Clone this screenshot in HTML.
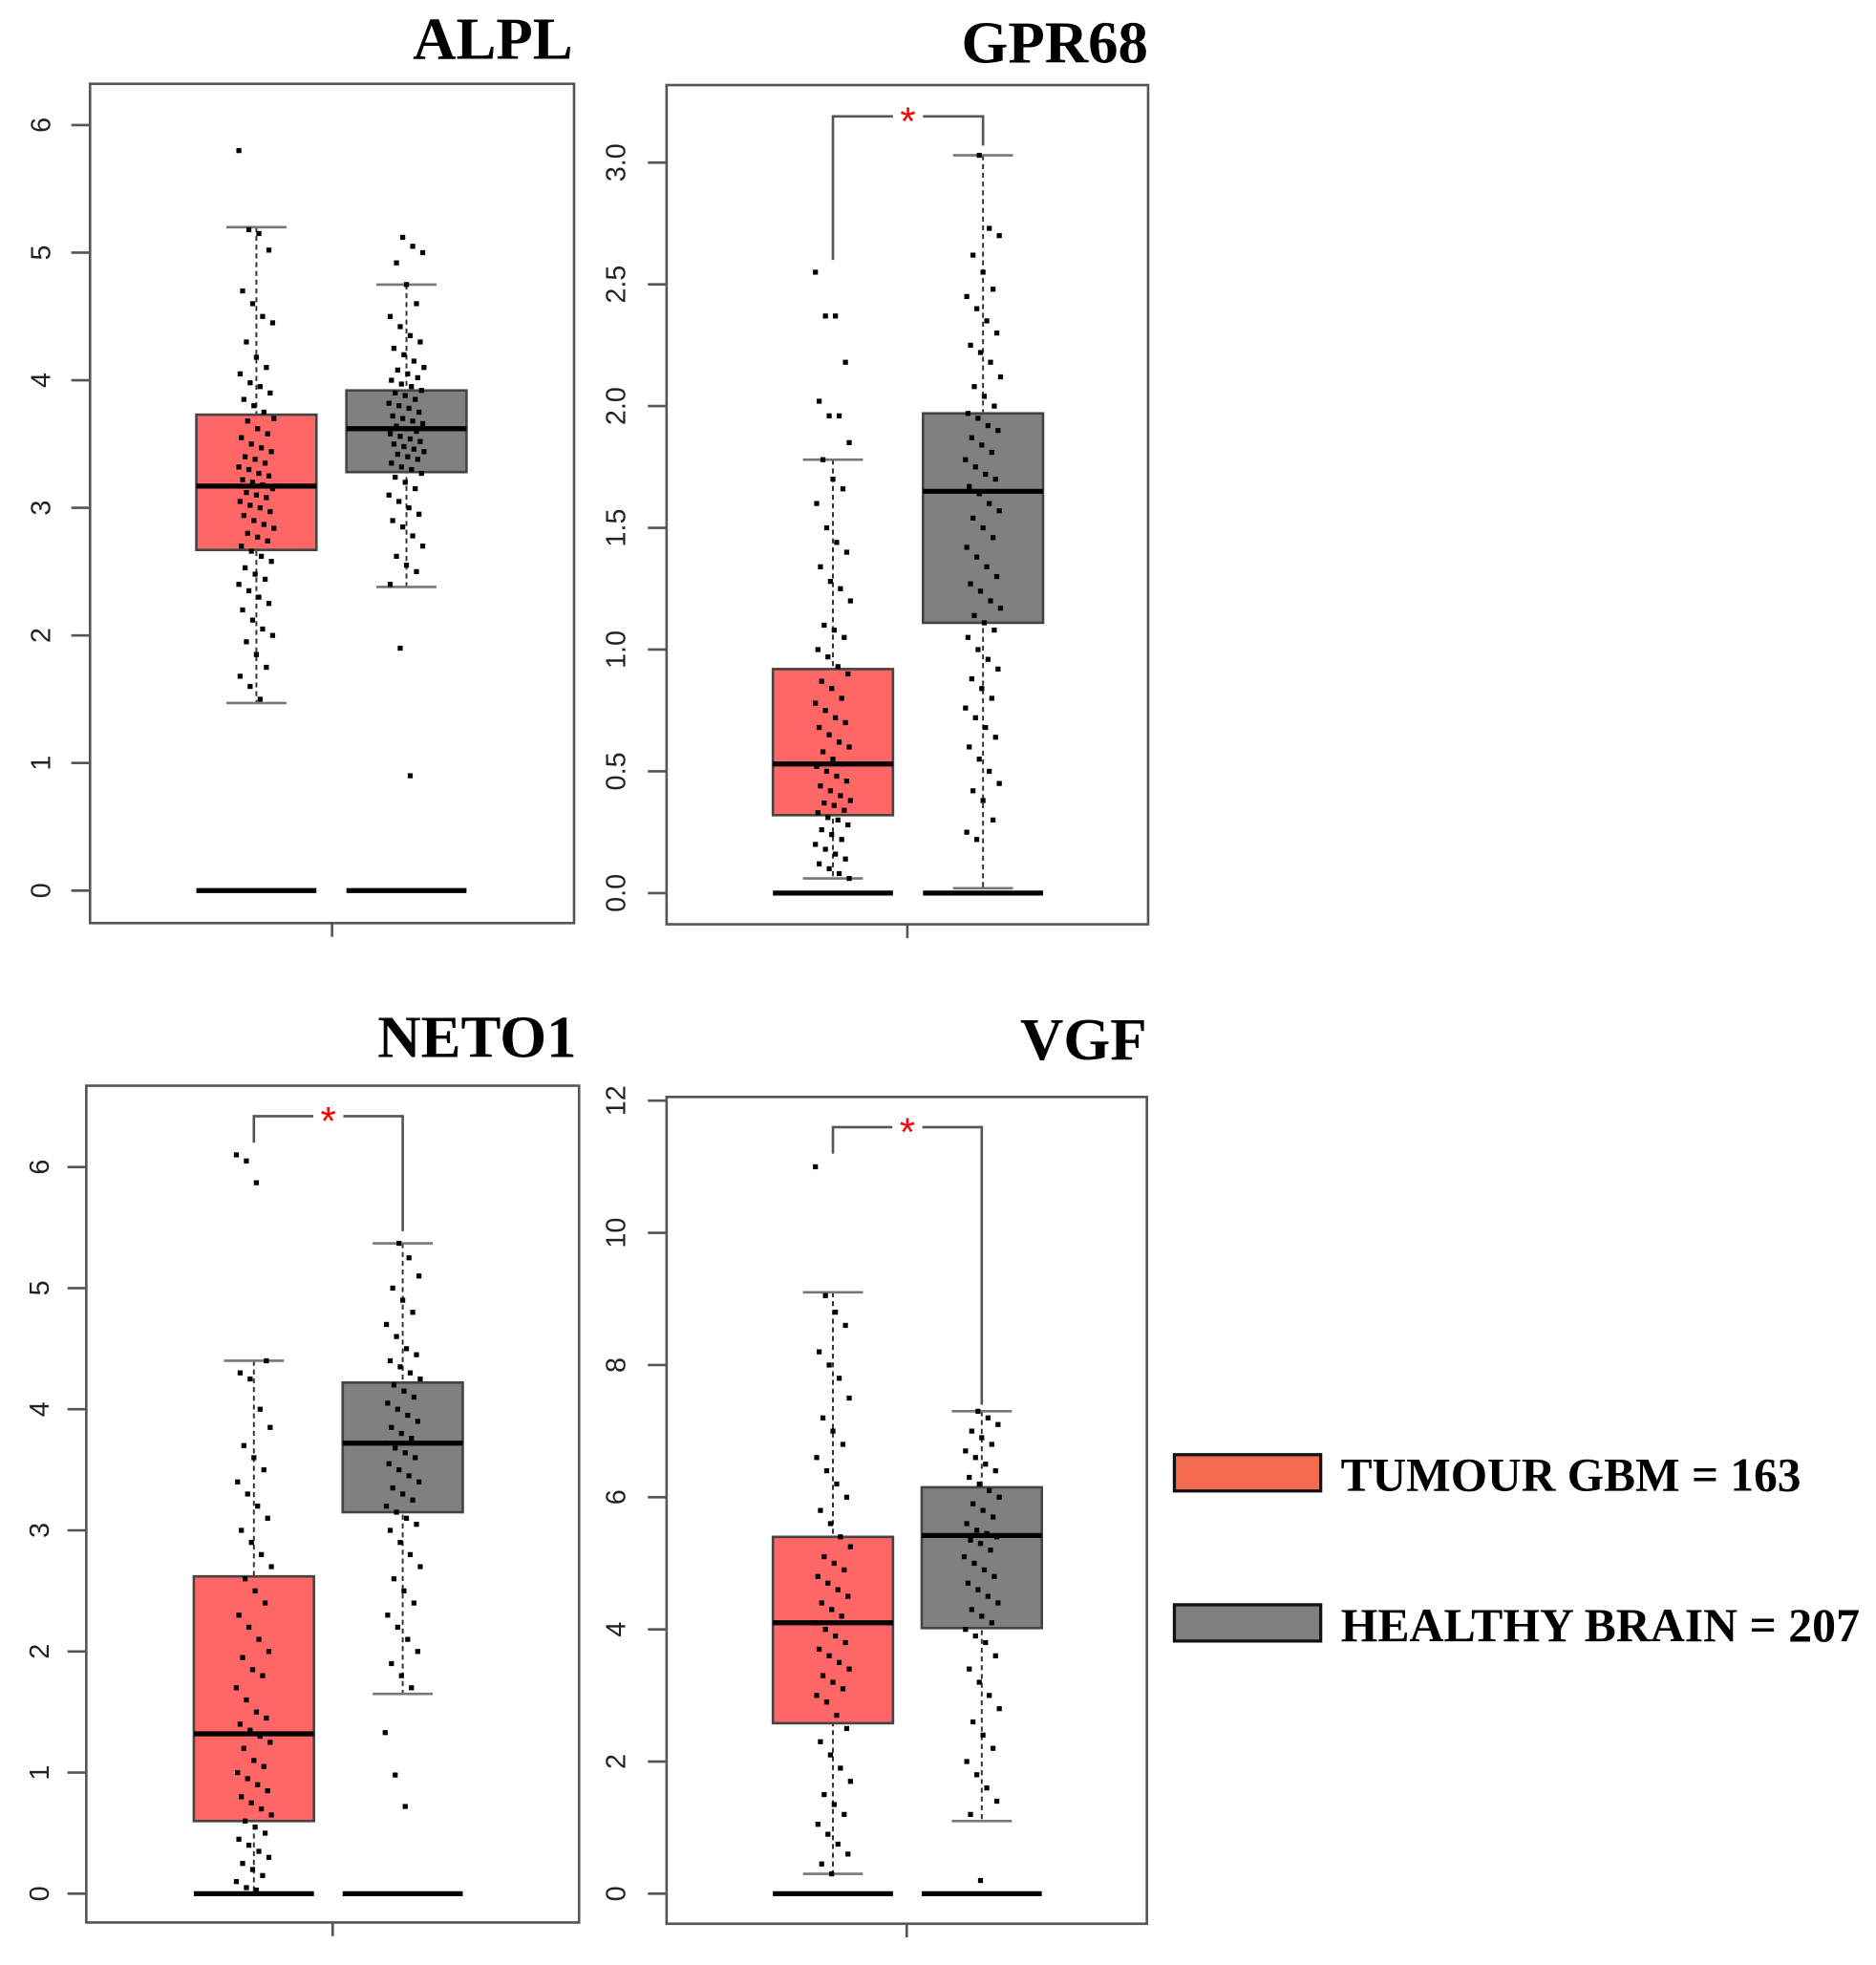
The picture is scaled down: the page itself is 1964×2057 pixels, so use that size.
<!DOCTYPE html>
<html><head><meta charset="utf-8"><title>Expression boxplots</title>
<style>
html,body{margin:0;padding:0;background:#fff;}
svg{display:block;}
</style></head>
<body>
<svg id="chart" width="1964" height="2057" viewBox="0 0 1500 1571" preserveAspectRatio="none" xmlns="http://www.w3.org/2000/svg"></svg>
<script>
// ===== data =====
const genes = ["ALPL","GPR68","NETO1","VGF"];
const groups = ["TUMOUR GBM","HEALTHY BRAIN"];
const groupCounts = [163,207];
const yTicksALPL = [0,1,2,3,4,5,6];
const yTicksGPR68 = [0,0.5,1,1.5,2,2.5,3];
const yTickLabelsGPR68 = ["0.0","0.5","1.0","1.5","2.0","2.5","3.0"];
const yTicksNETO1 = [0,1,2,3,4,5,6];
const yTicksVGF = [0,2,4,6,8,10,12];
// box stats: [whiskerLow, q1, median, q3, whiskerHigh]
const statsALPLTumour = [1.47,2.67,3.17,3.73,5.2];
const statsALPLHealthy = [2.38,3.28,3.62,3.92,4.75];
const statsGPR68Tumour = [0.06,0.32,0.53,0.92,1.78];
const statsGPR68Healthy = [0.02,1.11,1.65,1.97,3.03];
const statsNETO1Tumour = [0.0,0.6,1.32,2.62,4.4];
const statsNETO1Healthy = [1.65,3.15,3.72,4.22,5.37];
const statsVGFTumour = [0.3,2.58,4.1,5.4,9.1];
const statsVGFHealthy = [1.1,4.02,5.42,6.15,7.3];
// significance bracket: [height, tumourLegEnd, healthyLegEnd]
const sigGPR68 = [3.19,2.6,3.07];
const sigNETO1 = [6.42,6.2,5.47];
const sigVGF = [11.6,11.2,7.4];
// jittered sample values
const ptsALPLTumour = [5.8,5.18,5.15,5.02,4.7,4.6,4.5,4.45,4.3,4.18,4.1,4.05,3.98,3.95,3.9,3.85,3.8,3.75,3.7,3.68,3.62,3.58,3.55,3.5,3.47,3.44,3.4,3.38,3.35,3.32,3.3,3.27,3.25,3.22,3.2,3.18,3.15,3.12,3.1,3.08,3.05,3.02,3.0,2.97,2.94,2.9,2.87,2.84,2.8,2.77,2.74,2.7,2.66,2.62,2.58,2.53,2.48,2.44,2.4,2.35,2.3,2.25,2.2,2.12,2.05,2.0,1.95,1.85,1.75,1.68,1.6,1.5];
const ptsALPLHealthy = [5.12,5.05,5.0,4.92,4.75,4.6,4.5,4.42,4.35,4.3,4.25,4.2,4.15,4.1,4.08,4.05,4.02,4.0,3.97,3.95,3.92,3.9,3.88,3.85,3.82,3.8,3.78,3.75,3.72,3.7,3.68,3.66,3.64,3.62,3.6,3.58,3.56,3.54,3.52,3.5,3.48,3.46,3.44,3.42,3.4,3.38,3.35,3.32,3.3,3.27,3.24,3.2,3.15,3.1,3.05,3.0,2.95,2.9,2.85,2.78,2.7,2.62,2.55,2.5,2.4,1.9,0.9];
const ptsGPR68Tumour = [2.55,2.37,2.37,2.18,2.02,1.96,1.96,1.85,1.78,1.7,1.66,1.6,1.5,1.44,1.4,1.34,1.28,1.25,1.2,1.1,1.08,1.05,1.0,0.97,0.93,0.9,0.87,0.84,0.8,0.78,0.75,0.72,0.7,0.68,0.65,0.62,0.6,0.58,0.55,0.53,0.52,0.5,0.48,0.46,0.44,0.42,0.4,0.38,0.37,0.36,0.34,0.33,0.31,0.3,0.28,0.26,0.24,0.22,0.2,0.18,0.16,0.14,0.12,0.1,0.08,0.06];
const ptsGPR68Healthy = [3.03,2.73,2.7,2.62,2.55,2.48,2.45,2.4,2.35,2.3,2.25,2.22,2.18,2.12,2.08,2.04,2.0,1.97,1.95,1.92,1.9,1.87,1.84,1.81,1.78,1.75,1.72,1.7,1.67,1.64,1.6,1.57,1.54,1.5,1.46,1.42,1.38,1.34,1.3,1.27,1.24,1.2,1.17,1.14,1.11,1.08,1.05,1.0,0.96,0.92,0.88,0.84,0.8,0.76,0.72,0.68,0.64,0.6,0.55,0.5,0.45,0.42,0.38,0.3,0.25,0.22];
const ptsNETO1Tumour = [6.1,6.05,5.87,4.4,4.3,4.25,4.0,3.85,3.7,3.6,3.5,3.4,3.3,3.2,3.1,3.0,2.9,2.8,2.7,2.6,2.5,2.4,2.3,2.2,2.1,2.0,1.95,1.85,1.8,1.7,1.6,1.5,1.45,1.4,1.35,1.3,1.25,1.2,1.1,1.05,1.0,0.95,0.9,0.85,0.8,0.75,0.7,0.65,0.6,0.55,0.5,0.45,0.4,0.35,0.3,0.25,0.2,0.15,0.1,0.05,0.03];
const ptsNETO1Healthy = [5.37,5.25,5.1,5.0,4.9,4.8,4.7,4.6,4.5,4.45,4.4,4.35,4.3,4.25,4.2,4.15,4.1,4.05,4.0,3.95,3.9,3.85,3.8,3.76,3.72,3.68,3.64,3.6,3.55,3.5,3.45,3.4,3.35,3.3,3.25,3.2,3.15,3.1,3.05,3.0,2.9,2.8,2.7,2.6,2.5,2.4,2.3,2.2,2.1,2.0,1.9,1.8,1.7,1.33,0.98,0.72];
const ptsVGFTumour = [11.0,9.05,8.8,8.6,8.2,8.0,7.8,7.5,7.2,7.0,6.8,6.6,6.4,6.2,6.0,5.8,5.6,5.4,5.25,5.1,5.0,4.9,4.8,4.7,4.6,4.5,4.4,4.3,4.2,4.1,4.0,3.9,3.8,3.7,3.6,3.5,3.4,3.3,3.2,3.1,3.0,2.9,2.7,2.5,2.3,2.1,1.9,1.7,1.5,1.35,1.2,1.05,0.9,0.75,0.6,0.45,0.3];
const ptsVGFHealthy = [7.3,7.2,7.1,7.0,6.9,6.8,6.7,6.6,6.5,6.4,6.3,6.2,6.1,6.0,5.9,5.8,5.7,5.6,5.5,5.45,5.4,5.35,5.3,5.2,5.1,5.0,4.9,4.8,4.7,4.6,4.5,4.4,4.3,4.2,4.1,4.0,3.9,3.8,3.6,3.4,3.2,3.0,2.8,2.6,2.4,2.2,2.0,1.8,1.6,1.4,1.2,0.2];

// ===== layout =====
const NS="http://www.w3.org/2000/svg";
const svg=document.getElementById('chart');
function el(tag,attrs,parent){const e=document.createElementNS(NS,tag);for(const k in attrs)e.setAttribute(k,attrs[k]);(parent||svg).appendChild(e);return e;}

const panels=[
 {name:"alpl",title:genes[0],fx0:72,fx1:459,fy0:67,fy1:738,y0px:712,ymax:6,ymaxpx:100,cx:[205,325],ticks:yTicksALPL,labels:yTicksALPL.map(String),labelX:32,stats:[statsALPLTumour,statsALPLHealthy],pts:[ptsALPLTumour,ptsALPLHealthy],sig:null,titleX:458,titleY:47},
 {name:"gpr68",title:genes[1],fx0:533,fx1:918,fy0:68,fy1:739,y0px:714,ymax:3,ymaxpx:130,cx:[666,786],ticks:yTicksGPR68,labels:yTickLabelsGPR68,labelX:492,stats:[statsGPR68Tumour,statsGPR68Healthy],pts:[ptsGPR68Tumour,ptsGPR68Healthy],sig:sigGPR68,titleX:918,titleY:50},
 {name:"neto1",title:genes[2],fx0:69,fx1:463,fy0:868,fy1:1537,y0px:1514,ymax:6,ymaxpx:933,cx:[203,322],ticks:yTicksNETO1,labels:yTicksNETO1.map(String),labelX:31,stats:[statsNETO1Tumour,statsNETO1Healthy],pts:[ptsNETO1Tumour,ptsNETO1Healthy],sig:sigNETO1,titleX:461,titleY:845},
 {name:"vgf",title:genes[3],fx0:533,fx1:917,fy0:877,fy1:1538,y0px:1514,ymax:12,ymaxpx:880,cx:[666,785],ticks:yTicksVGF,labels:yTicksVGF.map(String),labelX:492,stats:[statsVGFTumour,statsVGFHealthy],pts:[ptsVGFTumour,ptsVGFHealthy],sig:sigVGF,titleX:917,titleY:847}
];
const fills=["#ff6666","#808080"];
const halfW=48;

panels.forEach(p=>{
 const g=el('g',{});
 
 
 const y=v=>p.y0px-(v/p.ymax)*(p.y0px-p.ymaxpx);
 const t=el('text',{x:p.titleX,y:p.titleY,'text-anchor':'end','font-family':'"Liberation Serif",serif','font-weight':'bold','font-size':48,fill:'#000'},g);
 t.textContent=p.title;
 
 
 p.ticks.forEach((v,i)=>{
  const tk=el('line',{x1:p.fx0-15,x2:p.fx0,y1:y(v),y2:y(v),stroke:'#555','stroke-width':2},g);
  
  
  const lb=el('text',{x:0,y:0,transform:`translate(${p.labelX+8},${y(v)}) rotate(-90)`,'text-anchor':'middle','font-family':'"Liberation Sans",sans-serif','font-size':22,fill:'#222'},g);
  lb.textContent=p.labels[i];
  
  
 });
 const xc=(p.fx0+p.fx1)/2;
 const xt=el('line',{x1:xc,x2:xc,y1:p.fy1,y2:p.fy1+11,stroke:'#555','stroke-width':2},g);
 
 
 [0,1].forEach(k=>{
  const s=p.stats[k],cx=p.cx[k];
  const wl=el('line',{x1:cx,x2:cx,y1:y(s[4]),y2:y(s[0]),stroke:'#333','stroke-width':1.5,'stroke-dasharray':'4,3'},g);
  
  
  [s[0],s[4]].forEach(v=>{
   const c=el('line',{x1:cx-24,x2:cx+24,y1:y(v),y2:y(v),stroke:'#777','stroke-width':2},g);
   
   
  });
  const b=el('rect',{x:cx-halfW,y:y(s[3]),width:2*halfW,height:y(s[1])-y(s[3]),fill:fills[k],stroke:'#444','stroke-width':2},g);
  
  
  p.pts[k].forEach((v,i)=>{
   const dx=((i*37+k*11)%29)-14;
   const d=el('rect',{x:cx+dx-2,y:y(v)-2,width:4,height:4,fill:'#000'},g);
   
   
  });
  const m=el('line',{x1:cx-halfW,x2:cx+halfW,y1:y(s[2]),y2:y(s[2]),stroke:'#000','stroke-width':4},g);
  
  
  const z=el('line',{x1:cx-halfW,x2:cx+halfW,y1:y(0),y2:y(0),stroke:'#000','stroke-width':4},g);
  
  
 });
 if(p.sig){
  const yb=y(p.sig[0]),a=p.cx[0],b2=p.cx[1],mid=(a+b2)/2;
  const br=el('path',{d:`M${a},${y(p.sig[1])}V${yb}H${mid-12}M${mid+12},${yb}H${b2}V${y(p.sig[2])}`,fill:'none',stroke:'#555','stroke-width':2},g);
  
  
  const st=el('text',{x:mid,y:yb+15,'text-anchor':'middle','font-family':'"Liberation Sans",sans-serif','font-size':32,fill:'#ff0000'},g);
  st.textContent='*';
  
  
 }
 const fr=el('rect',{x:p.fx0,y:p.fy0,width:p.fx1-p.fx0,height:p.fy1-p.fy0,fill:'none',stroke:'#555','stroke-width':2},g);
 
 
});

const lg=el('g',{});


const legY=[1163,1283], legFill=["#f26b50","#808080"], legW=[368,415];
[0,1].forEach(k=>{
 const r=el('rect',{x:939,y:legY[k],width:117,height:29,fill:legFill[k],stroke:'#111','stroke-width':2.5},lg);
 
 
 const tx=el('text',{x:1072,y:legY[k]+29,'font-family':'"Liberation Serif",serif','font-weight':'bold','font-size':38,fill:'#000',textLength:legW[k],lengthAdjust:'spacingAndGlyphs'},lg);
 tx.textContent=groups[k]+' = '+groupCounts[k];
 
 
});
</script>
</body></html>
